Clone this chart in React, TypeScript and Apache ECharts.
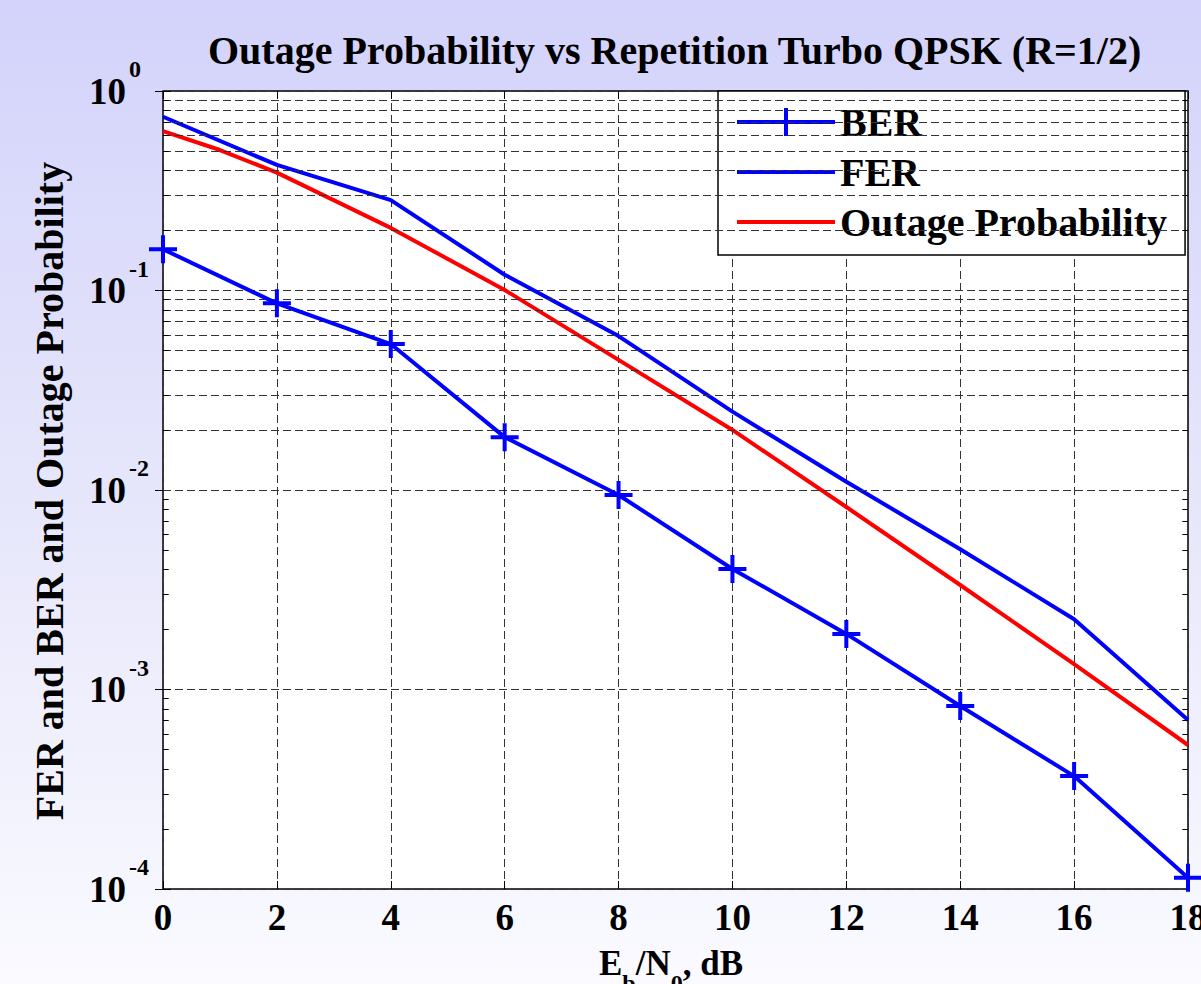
import React, { useEffect, useRef } from 'react';
import * as echarts from 'echarts';

// ---- Data ----
const ebNoDb = [0, 2, 4, 6, 8, 10, 12, 14, 16, 18];
const berValues = [0.161, 0.0862, 0.0539, 0.0184, 0.00944, 0.00402, 0.0019, 0.000826, 0.000368, 0.000114];
const ferValues = [0.743, 0.426, 0.284, 0.12, 0.0591, 0.0247, 0.011, 0.00505, 0.00225, 0.000703];
const outageX = [0, 1, 2, 4, 6, 8, 10, 12, 14, 16, 18];
const outageValues = [0.63, 0.506, 0.39, 0.206, 0.1006, 0.0449, 0.02, 0.00822, 0.00334, 0.00134, 0.000527];

const seriesNames = ['BER', 'FER', 'Outage Probability'];
const titleText = 'Outage Probability vs Repetition Turbo QPSK (R=1/2)';
const yAxisTitle = 'FER and BER and Outage Probability';
const xMin = 0;
const xMax = 18;
const xStep = 2;
const yMinExp = -4;
const yMaxExp = 0;
const minorMultipliers = [2, 3, 4, 5, 6, 7, 8, 9];

const SERIF = "'Liberation Serif', 'Times New Roman', serif";
const PLUS =
  'path://M-2,-14 L2,-14 L2,-2 L14,-2 L14,2 L2,2 L2,14 L-2,14 L-2,2 L-14,2 L-14,-2 L-2,-2 Z';
const LINE_ICON = 'path://M0,0 L98,0 L98,4 L0,4 Z';
const GRID_DASH = { type: [8, 4] as any, color: '#333333', width: 1 };
const LINE_W = 4;

export default function App() {
  const ref = useRef<HTMLDivElement>(null);

  useEffect(() => {
    document.body.style.margin = '0';
    const chart = echarts.init(ref.current as HTMLDivElement, null, { renderer: 'svg' });

    const minorVals: number[] = [];
    for (let e = yMinExp; e < yMaxExp; e++) {
      for (const k of minorMultipliers) minorVals.push(k * Math.pow(10, e));
    }
    const tickLen = 0.1;
    const markData: any[] = [];
    minorVals.forEach((v) => {
      markData.push({ yAxis: v, lineStyle: GRID_DASH });
    });
    minorVals.forEach((v) => {
      markData.push([
        { coord: [xMin, v], lineStyle: { type: 'solid', color: '#000', width: 1 } },
        { coord: [xMin + tickLen, v] },
      ]);
      markData.push([
        { coord: [xMax - tickLen, v], lineStyle: { type: 'solid', color: '#000', width: 1 } },
        { coord: [xMax, v] },
      ]);
    });

    const axisTick = { show: true, inside: true, length: 8, lineStyle: { color: '#000', width: 1 } };

    const option: any = {
      animation: false,
      backgroundColor: 'transparent',
      title: {
        text: titleText,
        left: 208,
        top: 30,
        padding: 0,
        textStyle: { fontFamily: SERIF, fontWeight: 'bold', fontSize: 40, color: '#000' },
      },
      legend: {
        orient: 'vertical',
        left: 718,
        top: 91,
        align: 'left',
        selectedMode: false,
        data: [
          { name: seriesNames[0] },
          { name: seriesNames[1], icon: LINE_ICON, itemStyle: { color: '#0000ff' } },
          { name: seriesNames[2], icon: LINE_ICON, itemStyle: { color: '#ff0000' } },
        ],
        itemWidth: 98,
        itemHeight: 35,
        itemGap: 10,
        padding: [11, 18, 13, 17],
        backgroundColor: '#fff',
        borderColor: '#000',
        borderWidth: 1.5,
        borderRadius: 0,
        lineStyle: { width: LINE_W },
        textStyle: { fontFamily: SERIF, fontWeight: 'bold', fontSize: 40, color: '#000' },
      },
      grid: {
        left: 163,
        right: 13,
        top: 91,
        bottom: 95,
        outerBoundsMode: 'none',
        containLabel: false,
        show: true,
        backgroundColor: '#fff',
        borderColor: '#000',
        borderWidth: 1.5,
      },
      xAxis: [
        {
          type: 'value',
          min: xMin,
          max: xMax,
          interval: xStep,
          axisLine: { show: false },
          axisTick,
          axisLabel: {
            margin: 10,
            fontFamily: SERIF,
            fontWeight: 'bold',
            fontSize: 37,
            color: '#000',
            hideOverlap: false,
          },
          splitLine: { show: true, lineStyle: GRID_DASH },
        },
        {
          type: 'value',
          position: 'top',
          min: xMin,
          max: xMax,
          interval: xStep,
          axisLine: { show: false },
          axisTick,
          axisLabel: { show: false },
          splitLine: { show: false },
        },
      ],
      yAxis: [
        {
          type: 'log',
          logBase: 10,
          min: Math.pow(10, yMinExp),
          max: Math.pow(10, yMaxExp),
          splitNumber: yMaxExp - yMinExp,
          axisLine: { show: false },
          axisTick,
          axisLabel: {
            align: 'left',
            margin: 74,
            formatter: (v: number) => `{b|10}{s|${Math.round(Math.log10(v))}}`,
            rich: {
              b: { fontFamily: SERIF, fontWeight: 'bold', fontSize: 37, color: '#000' },
              s: {
                fontFamily: SERIF,
                fontWeight: 'bold',
                fontSize: 24,
                color: '#000',
                padding: [0, 0, 44, 3],
              },
            },
          },
          splitLine: { show: true, lineStyle: GRID_DASH },
        },
        {
          type: 'log',
          logBase: 10,
          position: 'right',
          min: Math.pow(10, yMinExp),
          max: Math.pow(10, yMaxExp),
          splitNumber: yMaxExp - yMinExp,
          axisLine: { show: false },
          axisTick,
          axisLabel: { show: false },
          splitLine: { show: false },
        },
      ],
      graphic: [
        {
          type: 'text',
          x: 49,
          y: 491,
          rotation: Math.PI / 2,
          style: {
            text: yAxisTitle,
            fontFamily: SERIF,
            fontWeight: 'bold',
            fontSize: 40,
            fill: '#000',
            align: 'center',
            verticalAlign: 'middle',
          },
        },
        {
          type: 'text',
          x: 671,
          y: 963,
          style: {
            text: '{m|E}{u|b}{m|/N}{u|0}{m|, dB}',
            align: 'center',
            verticalAlign: 'middle',
            rich: {
              m: { fontFamily: SERIF, fontWeight: 'bold', fontSize: 35, fill: '#000' },
              u: { fontFamily: SERIF, fontWeight: 'bold', fontSize: 24, fill: '#000', padding: [40, 0, 0, 0] },
            },
          },
        },
      ],
      series: [
        {
          name: 'gridMinor',
          type: 'line',
          data: [],
          silent: true,
          z: 1,
          markLine: {
            silent: true,
            symbol: ['none', 'none'],
            label: { show: false },
            emphasis: { disabled: true },
            data: markData,
          },
        },
        {
          name: seriesNames[0],
          type: 'line',
          z: 5,
          data: ebNoDb.map((x, i) => [x, berValues[i]]),
          color: '#0000ff',
          lineStyle: { width: LINE_W, color: '#0000ff' },
          symbol: PLUS,
          symbolSize: 28,
          showSymbol: true,
          itemStyle: { color: '#0000ff' },
          clip: false,
        },
        {
          name: seriesNames[1],
          type: 'line',
          z: 4,
          data: ebNoDb.map((x, i) => [x, ferValues[i]]),
          color: '#0000ff',
          lineStyle: { width: LINE_W, color: '#0000ff' },
          symbol: 'none',
        },
        {
          name: seriesNames[2],
          type: 'line',
          z: 3,
          data: outageX.map((x, i) => [x, outageValues[i]]),
          color: '#ff0000',
          lineStyle: { width: LINE_W, color: '#ff0000' },
          symbol: 'none',
        },
      ],
    };

    chart.setOption(option);
    return () => chart.dispose();
  }, []);

  return (
    <div
      ref={ref}
      style={{
        width: 1201,
        height: 984,
        background: 'linear-gradient(to bottom, #d3d3fb 0%, #e6e6fb 50%, #fafaff 100%)',
      }}
    />
  );
}
